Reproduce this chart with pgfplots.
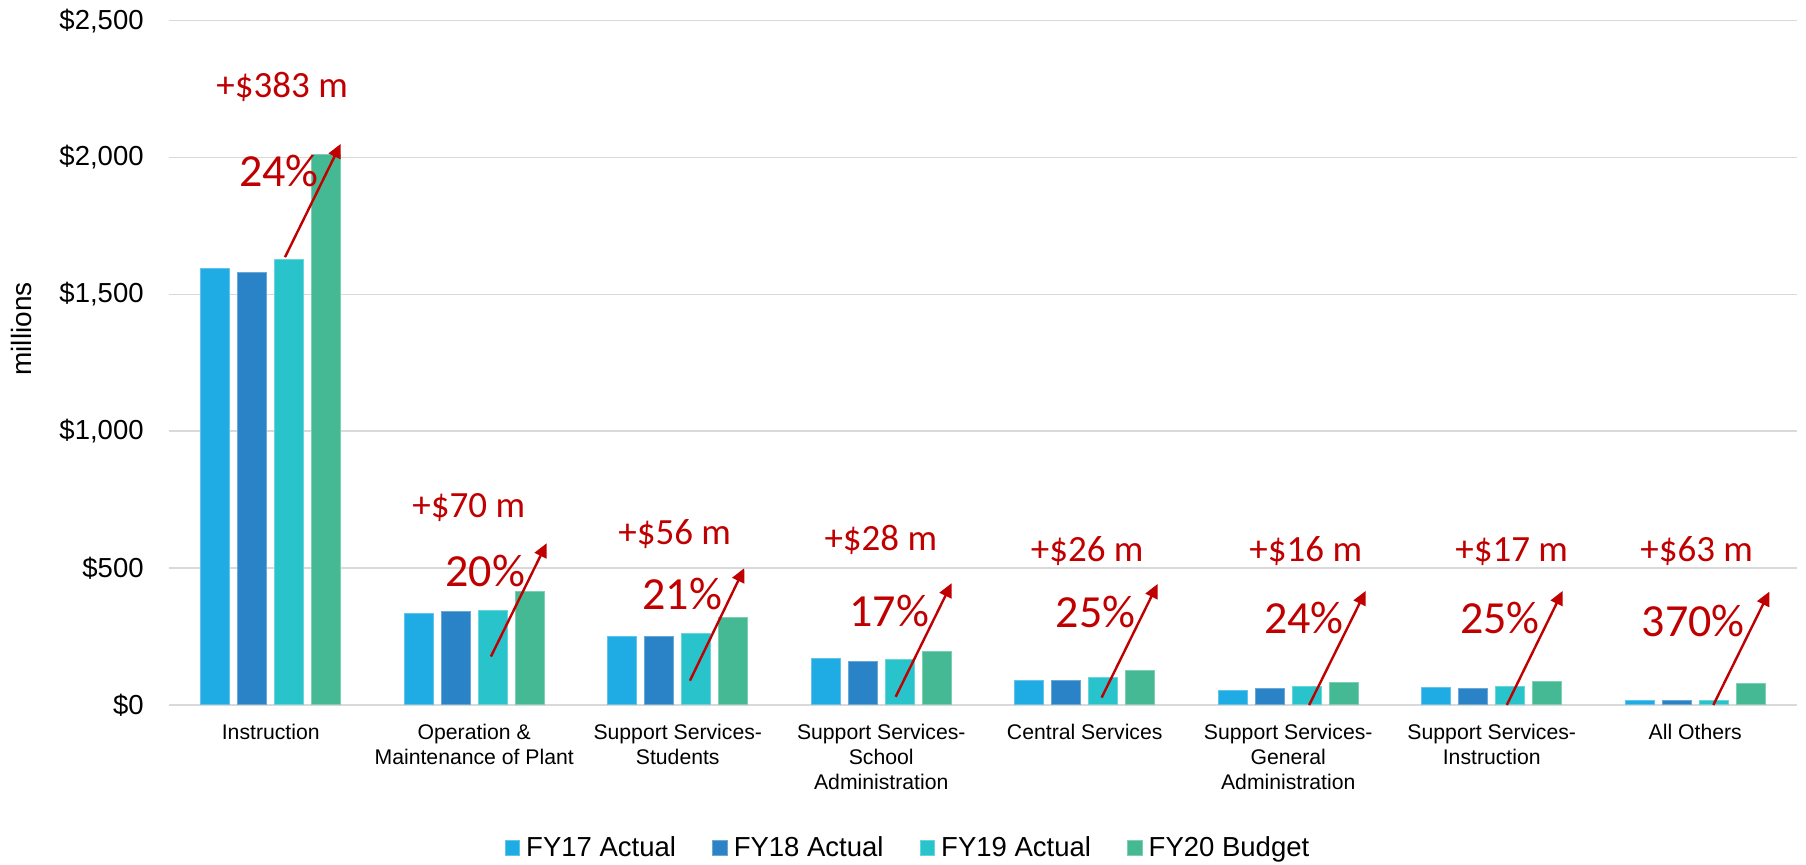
\documentclass[border=0pt]{standalone}
\usepackage{pgfplots}
\pgfplotsset{compat=1.18}
\usepackage{pgfplotstable}
\usepackage{fontspec}
\setmainfont{Liberation Sans}
\newfontfamily\calibri{Carlito}
\usetikzlibrary{arrows.meta}
\definecolor{cA}{HTML}{1FABE3}
\definecolor{cB}{HTML}{2983C6}
\definecolor{cC}{HTML}{28C3CB}
\definecolor{cD}{HTML}{44B994}
\definecolor{dred}{HTML}{C00000}
\definecolor{gridgray}{HTML}{D9D9D9}

\pgfplotstableread{
idx fya fyb fyc fyd
0 1596 1580 1627 2010
1 335 341 345 415
2 252 252 263 319
3 171 158 168 196
4 90 91 99 125
5 52 62 67 83
6 65 61 67 84
7 18 15 17 80
}\datatable

\begin{document}
\begin{tikzpicture}
\useasboundingbox (0,0) rectangle (903pt,432.5pt);
\begin{axis}[
  at={(84.5pt,80pt)}, anchor=south west,
  scale only axis, width=814pt, height=342.15pt,
  xmin=-0.5, xmax=7.5, ymin=0, ymax=2500,
  clip=false,
  axis line style={draw=none},
  major tick length=0pt,
  tick style={draw=none},
  ymajorgrids, grid style={gridgray, line width=0.8pt},
  ytick={0,500,1000,1500,2000,2500},
  yticklabels={\$0,\$500,{\$1,000},{\$1,500},{\$2,000},{\$2,500}},
  yticklabel style={anchor=east, inner sep=0pt, xshift=-12.5pt, font=\fontsize{13.75}{16}\selectfont},
  xtick={0,1,2,3,4,5,6,7},
  xticklabels={Instruction,{Operation \&\\Maintenance of Plant},{Support Services-\\Students},{Support Services-\\School\\Administration},Central Services,{Support Services-\\General\\Administration},{Support Services-\\Instruction},All Others},
  xticklabel style={anchor=north, align=center, inner sep=0pt, yshift=-9.15pt, font=\fontsize{10.6}{12.5}\selectfont},
  every axis y label/.style={at={(axis description cs:-0.0903,0.5495)}, rotate=90, anchor=center, font=\fontsize{14}{16}\selectfont},
  ylabel={millions},
  ybar, bar width=0.141,
  legend style={draw=none, fill=none, at={(axis description cs:0.4545,-0.209)}, anchor=center, legend columns=4, font=\fontsize{13.75}{16}\selectfont, /tikz/every odd column/.append style={column sep=1pt}, /tikz/every even column/.append style={column sep=16pt}},
  legend image code/.code={\fill[#1] (0pt,-3.67pt) rectangle (7.35pt,3.67pt);},
]
\addplot[fill=cA, draw=cA!70!white, line width=0.5pt, bar shift=0pt] table[x expr=\thisrow{idx}-0.2727, y=fya] {\datatable};
\addplot[fill=cB, draw=cB!70!white, line width=0.5pt, bar shift=0pt] table[x expr=\thisrow{idx}-0.0909, y=fyb] {\datatable};
\addplot[fill=cC, draw=cC!70!white, line width=0.5pt, bar shift=0pt] table[x expr=\thisrow{idx}+0.0909, y=fyc] {\datatable};
\addplot[fill=cD, draw=cD!70!white, line width=0.5pt, bar shift=0pt] table[x expr=\thisrow{idx}+0.2727, y=fyd] {\datatable};
\legend{FY17 Actual, FY18 Actual, FY19 Actual, FY20 Budget}

\tikzset{arr/.style={dred, line width=1.2pt, -{Triangle[length=7pt,width=6.5pt]}},
  mon/.style={dred, anchor=base, font=\calibri\fontsize{18.5}{20}\selectfont},
  pct/.style={dred, anchor=base, font=\calibri\fontsize{23}{25}\selectfont}}

\draw[arr] (axis cs:0.070,1636) -- (axis cs:0.344,2050);
\draw[arr] (axis cs:1.082,177) -- (axis cs:1.356,591);
\draw[arr] (axis cs:2.060,89) -- (axis cs:2.327,500);
\draw[arr] (axis cs:3.071,30) -- (axis cs:3.346,445);
\draw[arr] (axis cs:4.083,27) -- (axis cs:4.358,442);
\draw[arr] (axis cs:5.103,0) -- (axis cs:5.381,417);
\draw[arr] (axis cs:6.074,0) -- (axis cs:6.349,417);
\draw[arr] (axis cs:7.089,0) -- (axis cs:7.364,414);

\node[mon] at (axis cs:0.056,2221) {+\$383 m};
\node[mon] at (axis cs:0.973,686) {+\$70 m};
\node[mon] at (axis cs:1.985,588) {+\$56 m};
\node[mon] at (axis cs:2.998,564) {+\$28 m};
\node[mon] at (axis cs:4.012,524) {+\$26 m};
\node[mon] at (axis cs:5.086,524) {+\$16 m};
\node[mon] at (axis cs:6.098,524) {+\$17 m};
\node[mon] at (axis cs:7.007,526) {+\$63 m};

\node[pct] at (axis cs:0.040,1894) {24\%};
\node[pct] at (axis cs:1.054,432) {20\%};
\node[pct] at (axis cs:2.023,350) {21\%};
\node[pct] at (axis cs:3.039,286) {17\%};
\node[pct] at (axis cs:4.053,283) {25\%};
\node[pct] at (axis cs:5.077,262) {24\%};
\node[pct] at (axis cs:6.041,262) {25\%};
\node[pct] at (axis cs:6.990,250) {370\%};
\end{axis}
\end{tikzpicture}
\end{document}
